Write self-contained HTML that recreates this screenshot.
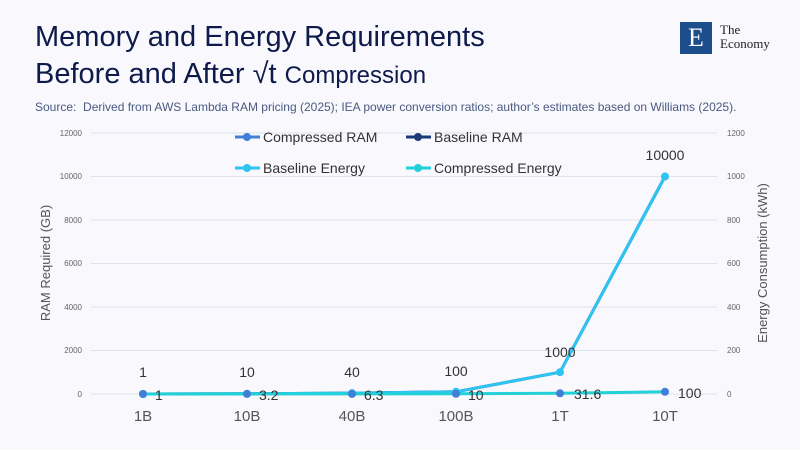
<!DOCTYPE html>
<html><head><meta charset="utf-8"><style>
body{margin:0;width:800px;height:450px;background:#f8f8fd;font-family:"Liberation Sans",sans-serif;overflow:hidden;position:relative}
.t{position:absolute;left:35px;font-size:29px;color:#0d1a4a}
</style></head><body>
<div class="t" style="top:21px">Memory and Energy Requirements</div>
<div class="t" style="top:58px">Before and After √t <span style="font-size:24px">Compression</span></div>
<div style="position:absolute;left:35px;top:100px;font-size:12px;color:#4a5a80">Source:&nbsp; Derived from AWS Lambda RAM pricing (2025); IEA power conversion ratios; author’s estimates based on Williams (2025).</div>
<div style="position:absolute;left:680px;top:22px;width:32px;height:32px;background:#1d4e8c;color:#fff;font-family:'Liberation Serif',serif;font-size:26px;text-align:center;line-height:32px">E</div>
<div style="position:absolute;left:720px;top:23px;font-family:'Liberation Serif',serif;font-size:13px;line-height:14px;color:#222">The<br>Economy</div>
<svg width="800" height="450" style="position:absolute;left:0;top:0" font-family="Liberation Sans, sans-serif">
<g stroke="#dfe3ee" stroke-width="1">
<line x1="91" x2="717" y1="133" y2="133"/><line x1="91" x2="717" y1="176.5" y2="176.5"/><line x1="91" x2="717" y1="220" y2="220"/><line x1="91" x2="717" y1="263.5" y2="263.5"/><line x1="91" x2="717" y1="307" y2="307"/><line x1="91" x2="717" y1="350.5" y2="350.5"/><line x1="91" x2="717" y1="394" y2="394"/>
</g>
<g font-size="8" fill="#666" text-anchor="end">
<text x="82" y="136">12000</text><text x="82" y="179">10000</text><text x="82" y="223">8000</text><text x="82" y="266">6000</text><text x="82" y="310">4000</text><text x="82" y="353">2000</text><text x="82" y="397">0</text>
</g>
<g font-size="8" fill="#666" text-anchor="start">
<text x="727" y="136">1200</text><text x="727" y="179">1000</text><text x="727" y="223">800</text><text x="727" y="266">600</text><text x="727" y="310">400</text><text x="727" y="353">200</text><text x="727" y="397">0</text>
</g>
<text transform="translate(50,263) rotate(-90)" font-size="13" fill="#555" text-anchor="middle">RAM Required (GB)</text>
<text transform="translate(767,263) rotate(-90)" font-size="13" fill="#555" text-anchor="middle">Energy Consumption (kWh)</text>
<g font-size="15" fill="#555" text-anchor="middle">
<text x="143" y="421">1B</text><text x="247" y="421">10B</text><text x="352" y="421">40B</text><text x="456" y="421">100B</text><text x="560" y="421">1T</text><text x="665" y="421">10T</text>
</g>
<polyline points="143,394 247,393.8 352,393.1 456,391.8 560,372.2 665,176.5" fill="none" stroke="#1a3a7a" stroke-width="3"/>
<polyline points="143,394 247,393.8 352,393.1 456,391.8 560,372.2 665,176.5" fill="none" stroke="#2ec4f2" stroke-width="3"/>
<g fill="#2ec4f2"><circle cx="143" cy="394" r="4"/><circle cx="247" cy="393.8" r="4"/><circle cx="352" cy="393.1" r="4"/><circle cx="456" cy="391.8" r="4"/><circle cx="560" cy="372.2" r="4"/><circle cx="665" cy="176.5" r="4"/></g>
<polyline points="143,394 247,393.9 352,393.9 456,393.8 560,393.3 665,391.8" fill="none" stroke="#22d0d8" stroke-width="3"/>
<g fill="#3f7fd8"><circle cx="143" cy="394" r="4"/><circle cx="247" cy="393.9" r="4"/><circle cx="352" cy="393.9" r="4"/><circle cx="456" cy="393.8" r="4"/><circle cx="560" cy="393.3" r="4"/><circle cx="665" cy="391.8" r="4"/></g>
<g font-size="14" fill="#333" text-anchor="middle">
<text x="143" y="377">1</text><text x="247" y="377">10</text><text x="352" y="377">40</text><text x="456" y="376">100</text><text x="560" y="357">1000</text><text x="665" y="160">10000</text>
</g>
<g font-size="14" fill="#333">
<text x="155" y="400">1</text><text x="259" y="400">3.2</text><text x="364" y="400">6.3</text><text x="468" y="400">10</text><text x="574" y="399">31.6</text><text x="678" y="398">100</text>
</g>
<g font-size="14" fill="#333">
<line x1="235" x2="260" y1="137" y2="137" stroke="#3f7fd8" stroke-width="3"/><circle cx="247" cy="137" r="4" fill="#3f7fd8"/><text x="263" y="142">Compressed RAM</text>
<line x1="406" x2="431" y1="137" y2="137" stroke="#1a3a7a" stroke-width="3"/><circle cx="418" cy="137" r="4" fill="#1a3a7a"/><text x="434" y="142">Baseline RAM</text>
<line x1="235" x2="260" y1="168" y2="168" stroke="#2ec4f2" stroke-width="3"/><circle cx="247" cy="168" r="4" fill="#2ec4f2"/><text x="263" y="173">Baseline Energy</text>
<line x1="406" x2="431" y1="168" y2="168" stroke="#22d0d8" stroke-width="3"/><circle cx="418" cy="168" r="4" fill="#22d0d8"/><text x="434" y="173">Compressed Energy</text>
</g>
</svg>
</body></html>
